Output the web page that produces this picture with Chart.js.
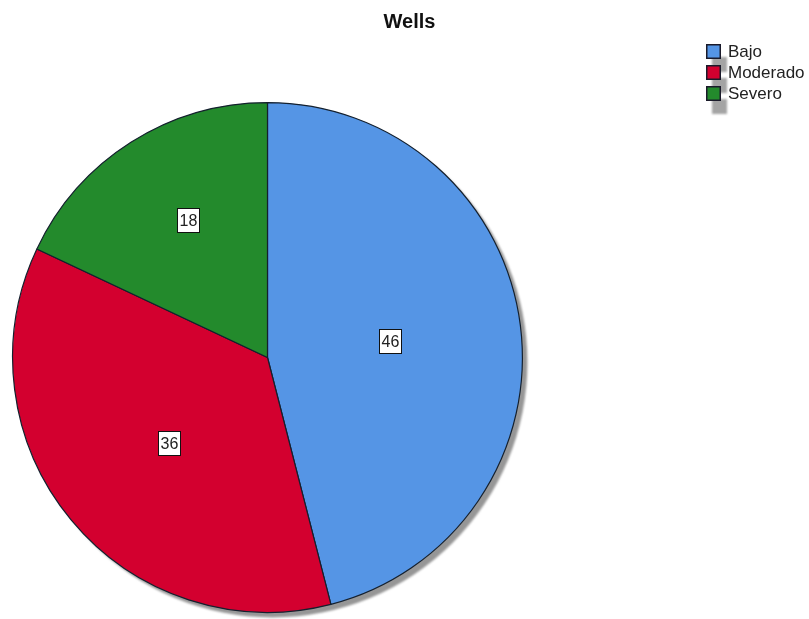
<!DOCTYPE html>
<html>
<head>
<meta charset="utf-8">
<title>Wells</title>
<script src="https://cdn.jsdelivr.net/npm/chart.js@4"></script>
<style>
    html, body { margin: 0; padding: 0; background: #fff; }
    #wrap { position: relative; width: 809px; height: 619px; }
</style>
</head>
<body>
<div id="wrap"><canvas id="chart-wells"></canvas></div>
<script>
const chartTitle = 'Wells';
const categories = ['Bajo', 'Moderado', 'Severo'];
const percentages = [46, 36, 18];
const sliceColors = ['#5595e5', '#d3002f', '#238a2c'];

// Title, legend, drop shadow and slice labels drawn by hand
const wellsDecor = {
    id: 'wellsDecor',
    beforeDatasetsDraw(chart) {
        const arc = chart.getDatasetMeta(0).data[0];
        if (!arc) return;
        const ctx = chart.ctx;
        ctx.save();
        ctx.filter = 'blur(1px)';
        ctx.fillStyle = '#969696';
        ctx.beginPath();
        ctx.arc(arc.x + 5, arc.y + 5, arc.outerRadius, 0, Math.PI * 2);
        ctx.fill();
        ctx.restore();
    },
    afterDraw(chart) {
        const ctx = chart.ctx;
        ctx.save();

        // title
        ctx.fillStyle = '#111';
        ctx.font = 'bold 20px "Liberation Sans", Arial, sans-serif';
        ctx.textAlign = 'center';
        ctx.textBaseline = 'middle';
        ctx.fillText(chartTitle, chart.width / 2 + 5, 22);

        // labels near the centroid of each slice
        const meta = chart.getDatasetMeta(0);
        ctx.font = '16px "Liberation Sans", Arial, sans-serif';
        meta.data.forEach((el, i) => {
            const theta = el.endAngle - el.startAngle;
            const mid = (el.startAngle + el.endAngle) / 2;
            const d = 4 * el.outerRadius * Math.sin(theta / 2) / (3 * theta);
            const cx = el.x + d * Math.cos(mid) + 7;
            const cy = el.y + d * Math.sin(mid) - 1;
            const w = 23, h = 25;
            const bx = Math.round(cx - w / 2), by = Math.round(cy - h / 2);
            ctx.fillStyle = '#fff';
            ctx.fillRect(bx, by, w, h);
            ctx.strokeStyle = '#111';
            ctx.lineWidth = 1;
            ctx.strokeRect(bx + 0.5, by + 0.5, w - 1, h - 1);
            ctx.fillStyle = '#222';
            ctx.textAlign = 'center';
            ctx.fillText(String(chart.data.datasets[0].data[i]), bx + w / 2, by + h / 2 + 1);
        });

        // legend, top right
        const lx = 706, ly = 44, step = 21, box = 15;
        ctx.save();
        ctx.filter = 'blur(0.8px)';
        ctx.fillStyle = '#a4a4a4';
        categories.forEach((name, i) => {
            ctx.fillRect(lx + 6, ly + i * step + 13, box, box);
        });
        ctx.restore();
        categories.forEach((name, i) => {
            const y = ly + i * step;
            ctx.fillStyle = sliceColors[i];
            ctx.fillRect(lx, y, box, box);
            ctx.strokeStyle = '#1a1a2a';
            ctx.lineWidth = 1.5;
            ctx.strokeRect(lx + 0.75, y + 0.75, box - 1.5, box - 1.5);
            ctx.fillStyle = '#222';
            ctx.textAlign = 'left';
            ctx.font = '17px "Liberation Sans", Arial, sans-serif';
            ctx.fillText(name, lx + 22, y + box / 2 + 1);
        });
        ctx.restore();
    }
};

new Chart(document.getElementById('chart-wells'), {
    type: 'pie',
    data: {
        labels: categories,
        datasets: [{
            data: percentages,
            backgroundColor: sliceColors,
            borderColor: '#14202e',
            borderWidth: 1.2
        }]
    },
    options: {
        responsive: true,
        maintainAspectRatio: false,
        animation: false,
        layout: { padding: { left: 12, right: 286, top: 102, bottom: 6 } },
        plugins: {
            legend: { display: false },
            title: { display: false },
            tooltip: { enabled: false }
        }
    },
    plugins: [wellsDecor]
});
</script>
</body>
</html>
